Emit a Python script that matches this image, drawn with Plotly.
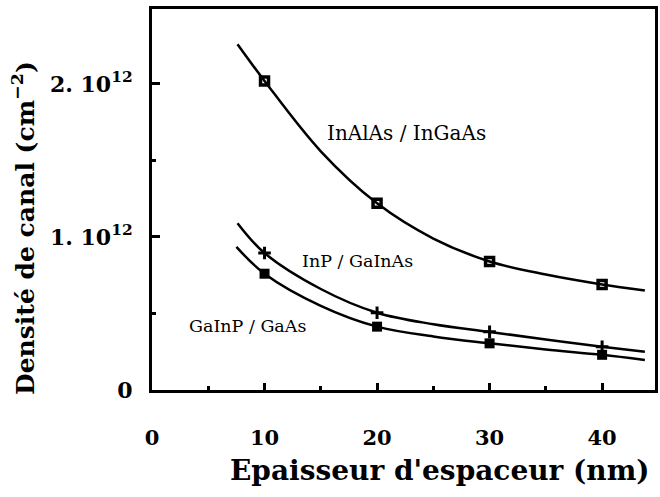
import plotly.graph_objects as go

# Measured points
x_pts = [10, 20, 30, 40]
inalas_pts = [2.02e12, 1.22e12, 0.84e12, 0.69e12]
inp_pts = [0.895e12, 0.505e12, 0.38e12, 0.283e12]
gainp_pts = [0.76e12, 0.414e12, 0.305e12, 0.23e12]

# Fitted curves
x_inalas_curve = [7.6, 10, 15, 20, 25, 30, 35, 40, 43.8]
inalas_curve = [2.26e12, 2.02e12, 1.56e12, 1.22e12, 0.99e12, 0.84e12, 0.755e12, 0.69e12, 0.65e12]
x_inp_curve = [7.6, 10, 15, 20, 25, 30, 35, 40, 43.8]
inp_curve = [1.09e12, 0.895e12, 0.66e12, 0.505e12, 0.43e12, 0.38e12, 0.33e12, 0.283e12, 0.25e12]
x_gainp_curve = [7.5, 10, 15, 20, 25, 30, 35, 40, 43.8]
gainp_curve = [0.935e12, 0.76e12, 0.55e12, 0.414e12, 0.35e12, 0.305e12, 0.265e12, 0.23e12, 0.196e12]

x_tickvals = [0, 10, 20, 30, 40]
x_ticktext = ["0", "10", "20", "30", "40"]
y_tickvals = [0, 1e12, 2e12]
y_ticktext = ["0", "1. 10<sup>12</sup>", "2. 10<sup>12</sup>"]

labels = ["InAlAs / InGaAs", "InP / GaInAs", "GaInP / GaAs"]
label_x = [22.6, 18.3, 8.5]
label_y = [1.68e12, 0.84e12, 0.42e12]
label_size = [20, 17.5, 17.5]

SERIF = "DejaVu Serif"
L, R, T, B = 152, 655, 9, 390
PW, PH = R - L, B - T

fig = go.Figure()
for xc, yc in [(x_inalas_curve, inalas_curve), (x_inp_curve, inp_curve), (x_gainp_curve, gainp_curve)]:
    fig.add_trace(go.Scatter(x=xc, y=yc, mode="lines", line=dict(color="black", width=2.5, shape="spline"),
                             showlegend=False, hoverinfo="skip"))

fig.add_trace(go.Scatter(x=x_pts, y=inalas_pts, mode="markers",
                         marker=dict(symbol="square-open", size=8, color="black", line=dict(width=3.5, color="black")),
                         showlegend=False))
fig.add_trace(go.Scatter(x=x_pts, y=inp_pts, mode="markers",
                         marker=dict(symbol="cross-thin", size=9, color="black", line=dict(width=3, color="black")),
                         showlegend=False))
fig.add_trace(go.Scatter(x=x_pts, y=gainp_pts, mode="markers",
                         marker=dict(symbol="square", size=10, color="black"),
                         showlegend=False))

for t, lx, ly, ls in zip(labels, label_x, label_y, label_size):
    fig.add_annotation(x=lx, y=ly, text=t, showarrow=False, xanchor="center", yanchor="middle",
                       font=dict(family=SERIF, size=ls, color="black"))

fig.add_annotation(xref="paper", yref="paper", x=(440 - L) / PW, y=-(470 - B) / PH,
                   xanchor="center", yanchor="middle",
                   text="<b>Epaisseur d'espaceur (nm)</b>", showarrow=False,
                   font=dict(family=SERIF, size=28, color="black"))
fig.add_annotation(xref="paper", yref="paper", x=-(L - 23) / PW, y=(B - 228) / PH,
                   xanchor="center", yanchor="middle",
                   text="<b>Densité de canal (cm<sup>−2</sup>)</b>", showarrow=False, textangle=-90,
                   font=dict(family=SERIF, size=25, color="black"))

fig.update_layout(
    width=660, height=497,
    margin=dict(l=L, r=660 - R, t=T, b=497 - B),
    plot_bgcolor="white", paper_bgcolor="white",
    xaxis=dict(range=[0, 44.7], tickvals=x_tickvals, ticktext=x_ticktext, ticks="inside", ticklen=7, tickwidth=3,
               tickcolor="black", showline=True, linewidth=3, linecolor="black", mirror=True, showgrid=False,
               zeroline=False, ticklabelstandoff=27, automargin=False,
               tickfont=dict(family=SERIF, size=21, color="black", weight="bold"),
               minor=dict(tickvals=[5, 15, 25, 35], ticks="inside", ticklen=4, tickwidth=3, tickcolor="black")),
    yaxis=dict(range=[0, 2.49e12], tickvals=y_tickvals, ticktext=y_ticktext, ticks="inside", ticklen=8, tickwidth=3,
               tickcolor="black", showline=True, linewidth=3, linecolor="black", mirror=True, showgrid=False,
               zeroline=False, ticklabelstandoff=12, automargin=False,
               tickfont=dict(family=SERIF, size=22, color="black", weight="bold"),
               minor=dict(tickvals=[0.5e12, 1.5e12], ticks="inside", ticklen=4, tickwidth=3, tickcolor="black")),
)

fig.write_html("out.html", config={"displayModeBar": False},
               post_script="document.body.style.margin='0';")
